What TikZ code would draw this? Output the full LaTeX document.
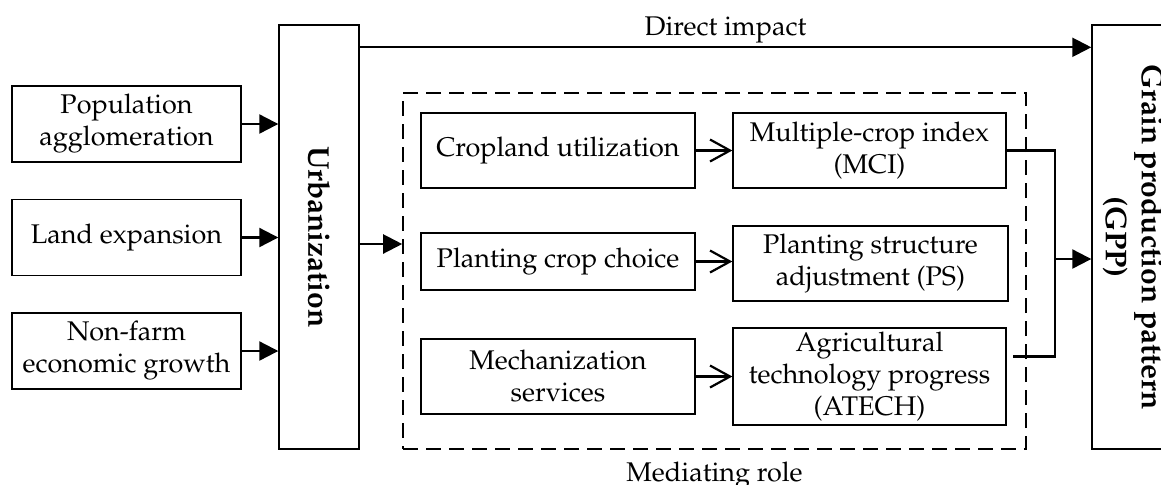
\documentclass[tikz,border=0pt]{standalone}
\usepackage[T1]{fontenc}
\usepackage{mathpazo}
\usepackage{graphicx}
\usetikzlibrary{arrows.meta, calc, positioning}

\begin{document}
\begin{tikzpicture}[x=0.5pt, y=-0.5pt,
  box/.style={draw, line width=0.7pt, align=center, inner sep=1pt, font=\fontsize{13.5}{16}\selectfont},
  tallbox/.style={draw, line width=0.7pt, inner sep=0pt, font=\fontsize{15}{18}\selectfont\bfseries},
  arr/.style={line width=1.1pt, -{Triangle[length=9.5pt, width=9.5pt]}},
  barb/.style={line width=1.1pt, -{Straight Barb[length=10pt, width=11pt, line width=1.1pt]}},
  lbl/.style={font=\fontsize{13.5}{16}\selectfont, inner sep=1pt}]
\clip (0,0) rectangle (1161,484);

% Drivers of urbanization
\node[box, minimum width=114.5pt, minimum height=38pt] (pop) at (126.5,124) {Population\\agglomeration};
\node[box, minimum width=114.5pt, minimum height=38pt] (land) at (126.5,237.5) {Land expansion};
\node[box, minimum width=114.5pt, minimum height=38pt] (nonfarm) at (126.5,351) {Non-farm\\economic growth};

% Urbanization and GPP
\node[tallbox, minimum width=40pt, minimum height=212pt] (urb) at (319,237) {\rotatebox{-90}{Urbanization}};
\node[tallbox, minimum width=39pt, minimum height=212pt] (gpp) at (1131,237)
  {\rotatebox{-90}{\begin{tabular}{@{}c@{}}Grain production pattern\\(GPP)\end{tabular}}};

% Mediating channels
\node[draw, dashed, dash pattern=on 7.5pt off 4pt, line width=0.8pt, minimum width=311.5pt, minimum height=178pt] (med) at (714.5,271) {};
\node[box, minimum width=137pt, minimum height=37.5pt] (crop) at (558,150.5) {Cropland utilization};
\node[box, minimum width=137pt, minimum height=28.5pt] (choice) at (558,261.5) {Planting crop choice};
\node[box, minimum width=137pt, minimum height=37.5pt] (mech) at (558,376.5) {Mechanization\\services};
\node[box, minimum width=136.5pt, minimum height=37.5pt] (mci) at (869.5,150.5) {Multiple-crop index\\(MCI)};
\node[box, minimum width=137.5pt, minimum height=37.5pt] (ps) at (870.5,263.5) {Planting structure\\adjustment (PS)};
\node[box, minimum width=136.5pt, minimum height=48.5pt] (atech) at (869.5,376.5) {Agricultural\\technology progress\\(ATECH)};

% Arrows into urbanization
\draw[arr] (pop.east) -- (pop.east -| urb.west);
\draw[arr] (land.east) -- (land.east -| urb.west);
\draw[arr] (nonfarm.east) -- (nonfarm.east -| urb.west);

% Direct and mediated paths
\coordinate (dstart) at ($(urb.north east)+(0,23)$);
\draw[arr] (dstart) -- node[lbl, above=0.5pt] {Direct impact} (dstart -| gpp.west);
\coordinate (mstart) at ($(urb.east)+(0,7)$);
\draw[arr] (mstart) -- (mstart -| med.west);
\node[lbl, below=5pt of med] (medlbl) {Mediating role};

\draw[barb] (crop.east) -- (crop.east -| mci.west);
\draw[barb] (choice.east) -- (choice.east -| ps.west);
\draw[barb] (mech.east) -- (mech.east -| atech.west);

% Channels joining towards GPP
\coordinate (join) at ($(mci.east)+(48,0)$);
\coordinate (aend) at ($(atech.east)+(6,-20)$);
\draw[line width=1.1pt] (mci.east) -- (join) |- (aend);
\coordinate (jarr) at (join |- 0,259);
\draw[arr] (jarr) -- (jarr -| gpp.west);
\end{tikzpicture}
\end{document}
